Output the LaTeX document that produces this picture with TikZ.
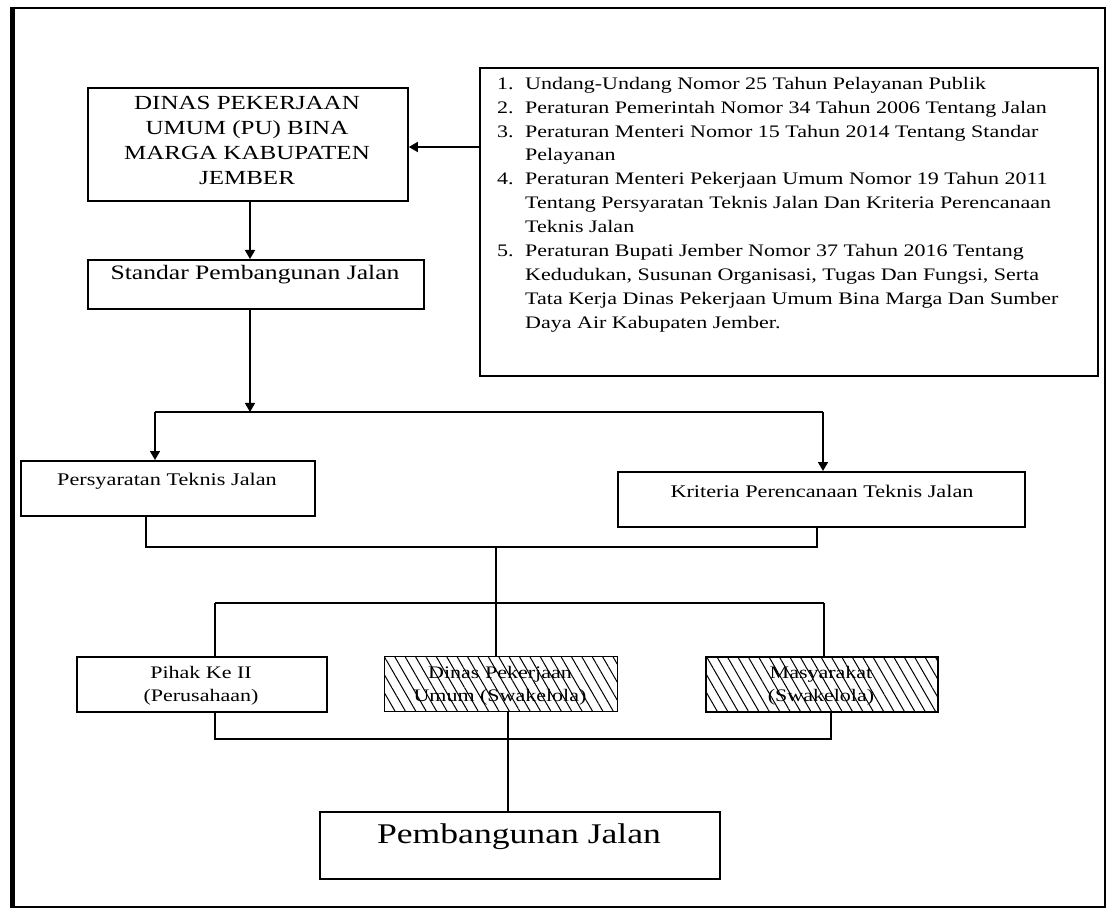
\documentclass[tikz,border=0pt]{standalone}
\usepackage{fontspec}
\setmainfont{Liberation Serif}[FakeStretch=1.25]
\usetikzlibrary{arrows.meta,patterns.meta}
\begin{document}
\begin{tikzpicture}[x=1pt,y=-1pt,
  box/.style={draw, line width=1.8pt, rectangle, inner sep=0pt, anchor=north west},
  con/.style={line width=1.6pt},
  arr/.style={con, -{Triangle[length=9pt,width=10pt]}},
  hatch/.style={pattern={Lines[angle=-60,distance=9pt,line width=1pt]}},
  sm/.style={font=\fontsize{17.6pt}{23pt}\selectfont, align=center, inner sep=0pt},
  lbl/.style={inner sep=0pt, anchor=base},
]
\useasboundingbox (0,0) rectangle (1109,909);
% outer frame
\draw[line width=2.8pt] (12.5,8) rectangle (1105,907);
\draw[line width=4.5pt] (12.5,6.6) -- (12.5,908.4);

% boxes
\node[box, minimum width=320pt, minimum height=113pt] (dinas) at (87,87) {};
\node[inner sep=0pt, align=center, font=\fontsize{20pt}{24.7pt}\selectfont] (dinasT) at (247,140.5)
  {DINAS PEKERJAAN\\UMUM (PU) BINA\\MARGA KABUPATEN\\JEMBER};

\node[box, minimum width=618pt, minimum height=308pt] (reg) at (479,67) {};
\node[inner sep=0pt, anchor=north west, font=\fontsize{17.6pt}{23.9pt}\selectfont] (regT) at (497,72.3) {%
\begin{tabular}{@{}p{28pt}@{}l@{}}
1. & Undang-Undang Nomor 25 Tahun Pelayanan Publik\\
2. & Peraturan Pemerintah Nomor 34 Tahun 2006 Tentang Jalan\\
3. & Peraturan Menteri Nomor 15 Tahun 2014 Tentang Standar\\
   & Pelayanan\\
4. & Peraturan Menteri Pekerjaan Umum Nomor 19 Tahun 2011\\
   & Tentang Persyaratan Teknis Jalan Dan Kriteria Perencanaan\\
   & Teknis Jalan\\
5. & Peraturan Bupati Jember Nomor 37 Tahun 2016 Tentang\\
   & Kedudukan, Susunan Organisasi, Tugas Dan Fungsi, Serta\\
   & Tata Kerja Dinas Pekerjaan Umum Bina Marga Dan Sumber\\
   & Daya Air Kabupaten Jember.
\end{tabular}};

\node[box, minimum width=336pt, minimum height=49pt] (stand) at (87,259) {};
\node[lbl, font=\fontsize{20.5pt}{24pt}\selectfont] (standT) at (255,280) {Standar Pembangunan Jalan};

\node[box, minimum width=294pt, minimum height=55pt] (pers) at (20,460) {};
\node[lbl, font=\fontsize{17.8pt}{23pt}\selectfont] (persT) at (167,485) {Persyaratan Teknis Jalan};

\node[box, minimum width=407pt, minimum height=55pt] (krit) at (617,471) {};
\node[lbl, font=\fontsize{17.8pt}{23pt}\selectfont] (kritT) at (822,497) {Kriteria Perencanaan Teknis Jalan};

\node[box, minimum width=250pt, minimum height=55pt] (pihak) at (76,656) {};
\node[sm] (pihakT) at (201,686) {Pihak Ke II\\(Perusahaan)};

\node[box, hatch, minimum width=233pt, minimum height=55pt] (dpu) at (384,656) {};
\node[sm] (dpuT) at (500,686) {Dinas Pekerjaan\\Umum (Swakelola)};

\node[box, hatch, minimum width=232pt, minimum height=55pt] (masy) at (705,656) {};
\node[sm] (masyT) at (821,686) {Masyarakat\\(Swakelola)};

\node[box, minimum width=400pt, minimum height=67pt] (pemb) at (319,811) {};
\node[lbl, font=\fontsize{28.5pt}{32pt}\selectfont] (pembT) at (519,843) {Pembangunan Jalan};

% junctions
\coordinate (jA) at (250,412);
\coordinate (jAL) at (155,412);
\coordinate (jAR) at (823,412);
\coordinate (jB) at (496,547);
\coordinate (jBL) at (146,547);
\coordinate (jBR) at (817,547);
\coordinate (jC) at (496,603);
\coordinate (jCL) at (215,603);
\coordinate (jCR) at (824,603);
\coordinate (jD) at (508,739);
\coordinate (jDL) at (215,739);
\coordinate (jDR) at (831,739);
\coordinate (jR) at (0,147);

% connectors
\draw[arr] (reg.west |- jR) -- (dinas.east |- jR);
\draw[arr] (dinas.south -| jA) -- (stand.north -| jA);
\draw[arr] (stand.south -| jA) -- (jA);
\draw[con] (jAL) -- (jAR);
\draw[arr] (jAL) -- (pers.north -| jAL);
\draw[arr] (jAR) -- (krit.north -| jAR);
\draw[con] (pers.south -| jBL) -- (jBL) -- (jBR) -- (krit.south -| jBR);
\draw[con] (jB) -- (jC);
\draw[con] (jCL) -- (jCR);
\draw[con] (jCL) -- (pihak.north -| jCL);
\draw[con] (jC) -- (dpu.north -| jC);
\draw[con] (jCR) -- (masy.north -| jCR);
\draw[con] (pihak.south -| jDL) -- (jDL) -- (jDR) -- (masy.south -| jDR);
\draw[con] (dpu.south -| jD) -- (pemb.north -| jD);
\end{tikzpicture}
\end{document}
